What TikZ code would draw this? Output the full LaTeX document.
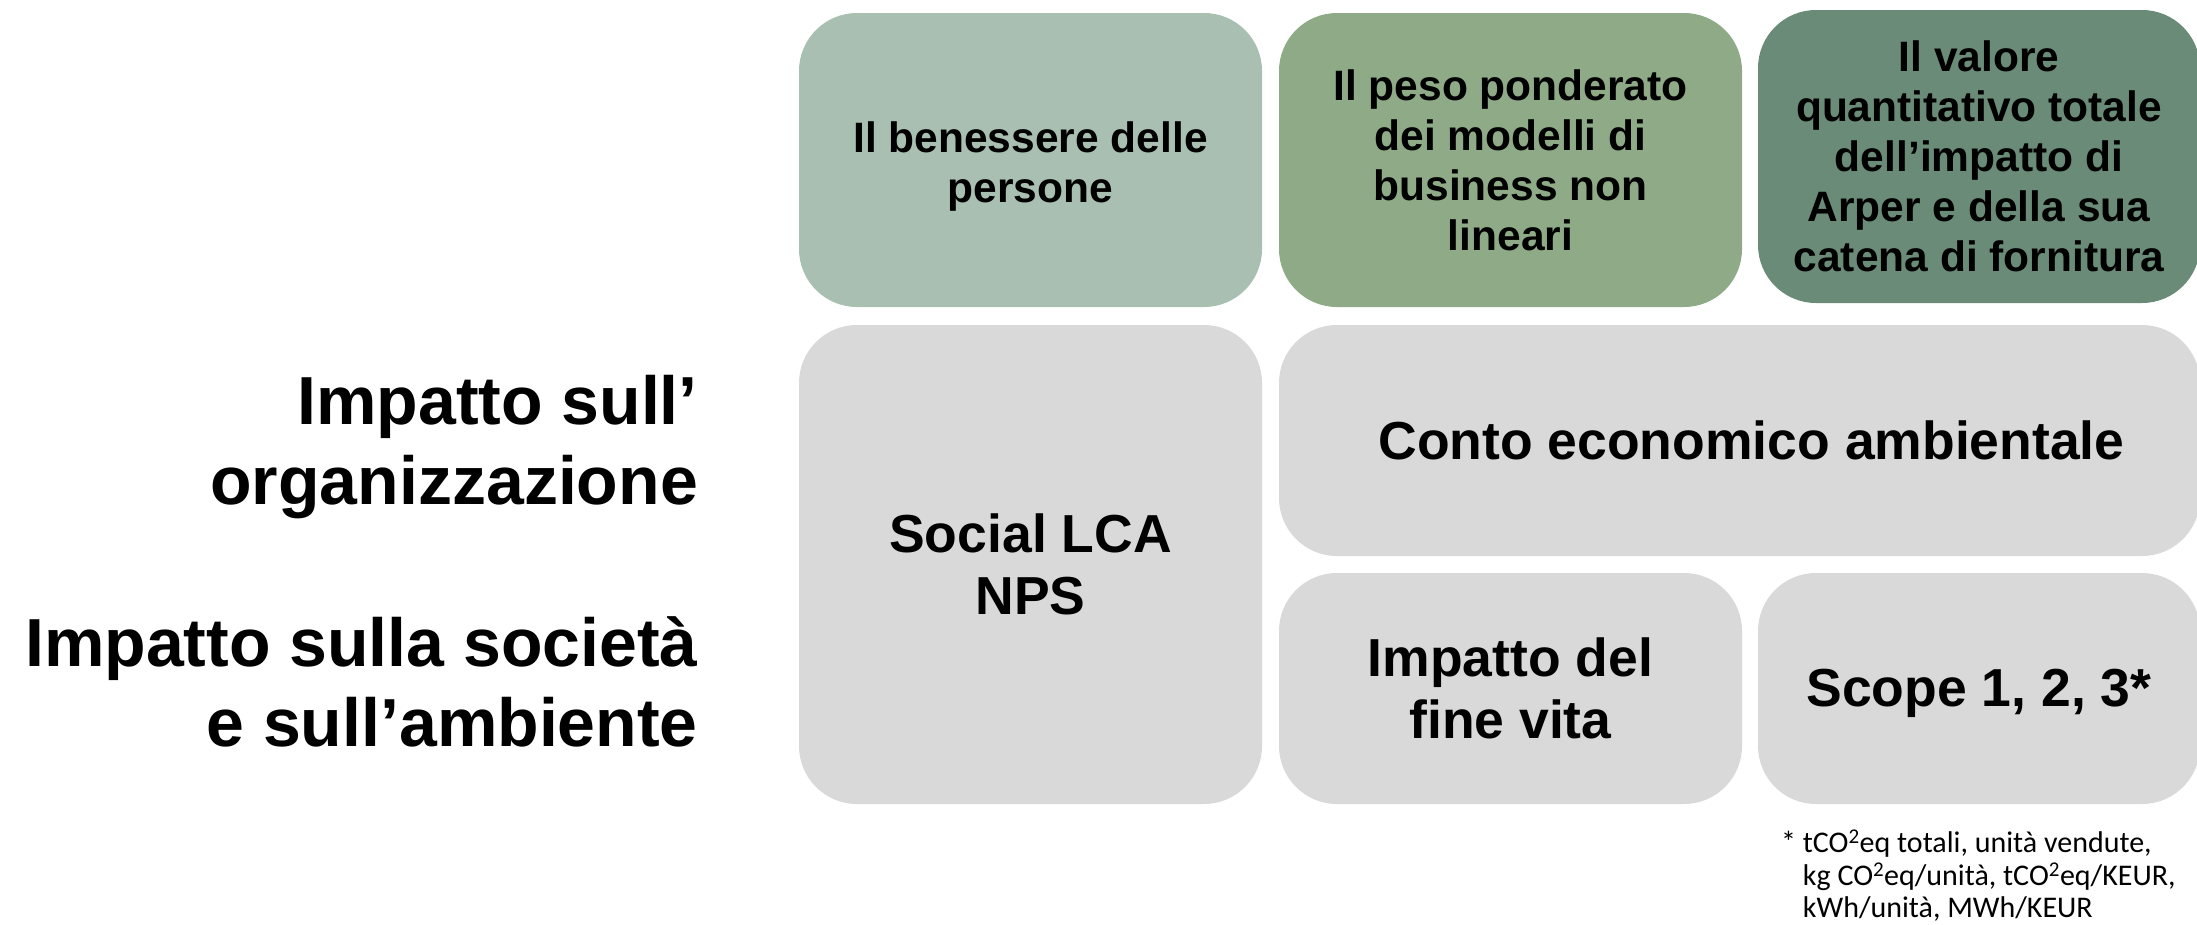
\documentclass[tikz,border=0pt]{standalone}
\usepackage{fontspec}
\setmainfont{Liberation Sans}
\newfontfamily\footfont{Carlito}
\definecolor{gA}{RGB}{168,191,177}
\definecolor{gB}{RGB}{143,170,134}
\definecolor{gC}{RGB}{105,139,120}
\definecolor{grayBox}{RGB}{217,217,217}
\tikzset{
  cell/.style={draw=none, rounded corners=58pt, inner sep=0pt, align=center, text=black},
  toptxt/.style={font=\fontsize{42.5}{50}\selectfont\bfseries},
  midtxt/.style={font=\fontsize{53.5}{62}\selectfont\bfseries},
  lefttxt/.style={font=\fontsize{68}{80}\selectfont\bfseries, align=right, inner sep=0pt, anchor=east},
}
\begin{document}
\begin{tikzpicture}[x=1pt,y=-1pt]
\useasboundingbox (0,0) rectangle (2197,924);
\node[cell, fill=gA, minimum width=463pt, minimum height=294pt] (b1) at (1030.5,160) {};
\node[toptxt, align=center] (b1t) at ([yshift=-7pt]b1.center) {Il benessere delle\\persone};
\node[cell, toptxt, fill=gB, minimum width=463pt, minimum height=294pt] (b2) at (1510.5,160) {Il peso ponderato\\dei modelli di\\business non\\lineari};
\node[cell, toptxt, fill=gC, minimum width=442pt, minimum height=293pt] (b3) at (1979,156.5) {Il valore\\quantitativo totale\\dell’impatto di\\Arper e della sua\\catena di fornitura};
\node[cell, midtxt, fill=grayBox, minimum width=463pt, minimum height=479pt] (social) at (1030.5,564.5) {Social LCA\\NPS};
\node[cell, fill=grayBox, minimum width=921pt, minimum height=231pt] (conto) at (1739.5,440.5) {};
\node[midtxt] (contot) at ([xshift=12pt]conto.center) {Conto economico ambientale};
\node[cell, midtxt, fill=grayBox, minimum width=463pt, minimum height=231pt] (fine) at (1510.5,688.5) {Impatto del\\fine vita};
\node[cell, fill=grayBox, minimum width=442pt, minimum height=231pt] (scope) at (1979,688.5) {};
\node[midtxt] (scopet) at ([yshift=-5pt]scope.center) {Scope 1, 2, 3*};
\node[lefttxt] (org) at (698,447) {Impatto sull’\\organizzazione};
\node[lefttxt] (soc) at (698,682) {Impatto sulla società\\e sull’ambiente};
\node[anchor=north west, inner sep=0pt, font=\footfont\fontsize{30}{32.5}\selectfont] (note) at (1781,830)
  {\begin{tabular}{@{}l@{ }l@{}}*&tCO\textsuperscript{2}eq totali, unità vendute,\\
   &kg CO\textsuperscript{2}eq/unità, tCO\textsuperscript{2}eq/KEUR,\\
   &kWh/unità, MWh/KEUR\end{tabular}};
\end{tikzpicture}
\end{document}
